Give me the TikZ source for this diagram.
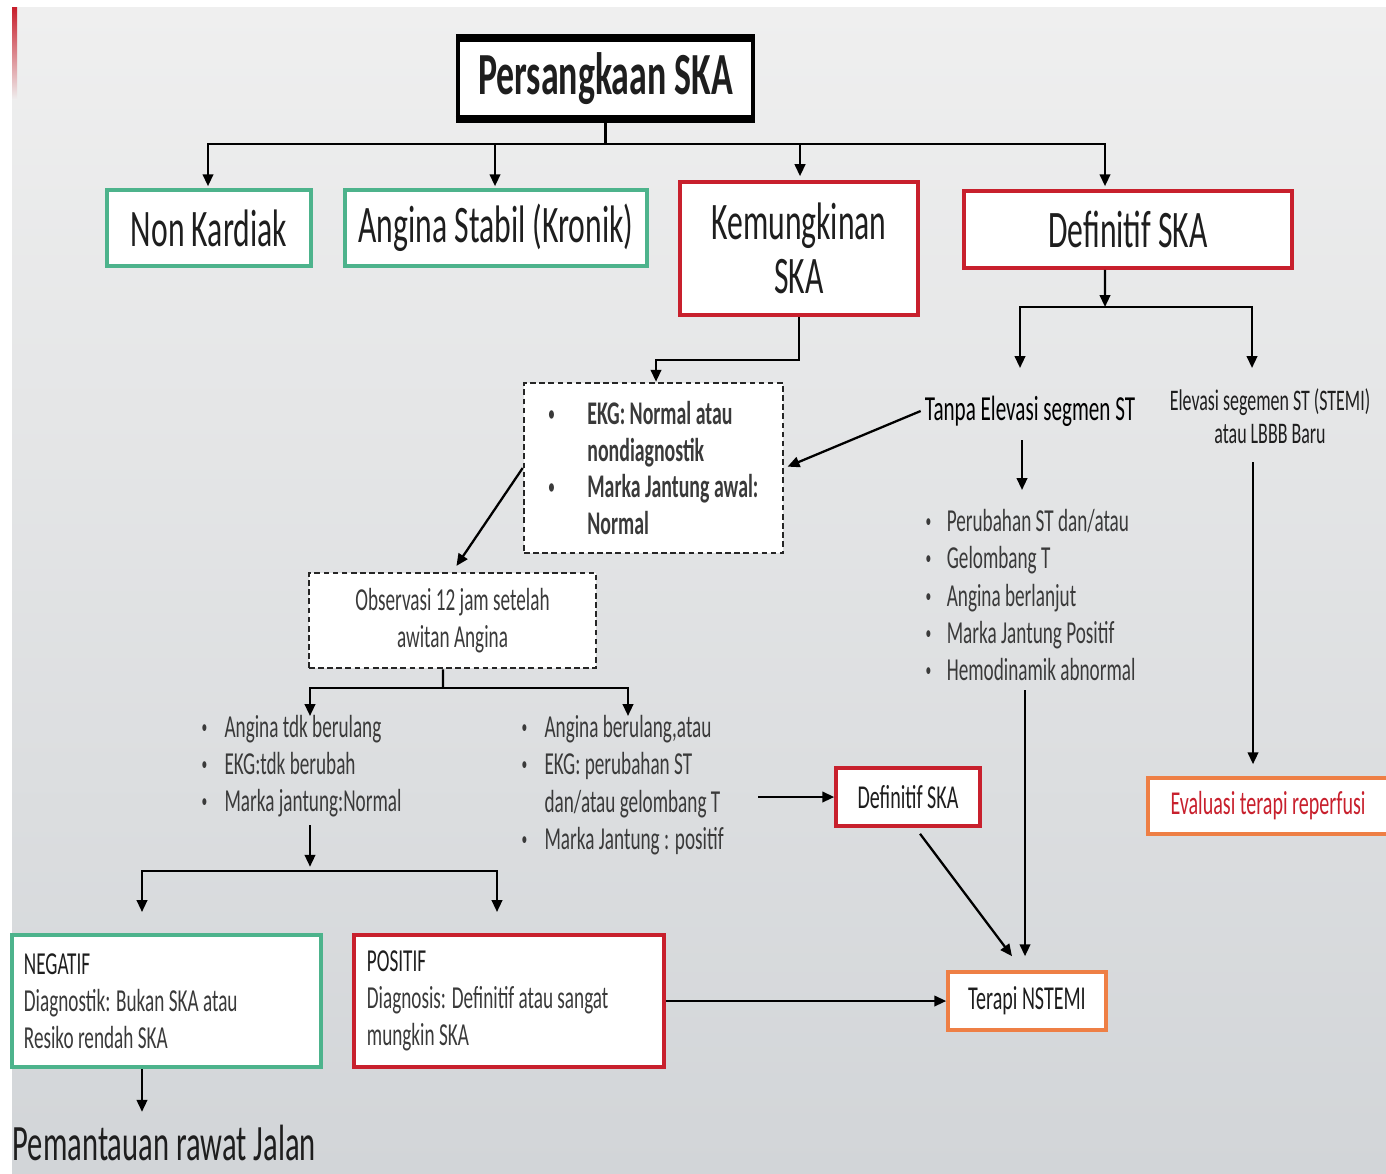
\documentclass[tikz,border=0pt]{standalone}
\usepackage{fontspec}
\usepackage{graphicx}
\setmainfont[FakeStretch=0.6]{Carlito}
\usetikzlibrary{arrows.meta, positioning}
\definecolor{SkaGreen}{HTML}{4DB38C}
\definecolor{SkaRed}{HTML}{C8202D}
\definecolor{SkaOrange}{HTML}{EE7F45}
\definecolor{SkaText}{HTML}{1E1E1E}
\definecolor{SkaGrey}{HTML}{3A3A3A}
\definecolor{BgTop}{HTML}{EFEFEF}
\definecolor{BgBottom}{HTML}{D2D5D8}
\colorlet{BoxFill}{white}
\newcommand{\blt}[1]{\makebox[#1][l]{\raisebox{0.12em}{\scalebox{0.6}{\textbullet}}}}

\begin{document}
\begin{tikzpicture}[x=0.01cm, y=-0.01cm,
        box/.style={draw, fill=BoxFill, line width=1pt, inner sep=0pt, align=center, text=SkaText},
        greenbox/.style={box, draw=SkaGreen},
        redbox/.style={box, draw=SkaRed},
        orangebox/.style={box, draw=SkaOrange},
        dotbox/.style={box, draw=black!85, dash pattern=on 1.6pt off 1pt, line width=0.7pt},
        arr/.style={-{Triangle[length=3.4pt,width=3pt]}, line width=0.65pt, black},
        conn/.style={line width=0.65pt, black},
        big/.style={font=\fontsize{15}{15.4}\selectfont},
        label/.style={font=\fontsize{9.5}{11}\selectfont},
        list/.style={align=left, inner sep=0pt, text=SkaGrey, font=\fontsize{9.1}{10.6}\selectfont}
    ]
    \useasboundingbox (0,0) rectangle (1386,1173);

    % Background
    \fill[white] (0,0) rectangle (1386,1173);
    \shade[top color=BgTop, bottom color=BgBottom] (12,8) rectangle (1386,1173);
    \shade[top color=SkaRed, bottom color=BgTop] (12,8) rectangle (17,100);

    % Top level
    \node[box, line width=1.2pt, minimum width=2.95cm, minimum height=0.77cm,
          font=\fontsize{17}{17}\selectfont\bfseries] (persangkaan) at (605.5,78.5) {Persangkaan SKA};
    \draw[line width=2pt] (persangkaan.north west) -- (persangkaan.north east);
    \draw[line width=2pt] (persangkaan.south west) -- (persangkaan.south east);

    \node[greenbox, big, minimum width=2.04cm, minimum height=0.76cm] (nonkardiak) at (209,228) {Non Kardiak};
    \node[greenbox, big, minimum width=3.02cm, minimum height=0.76cm] (stabil) at (496,228) {Angina Stabil (Kronik)};
    \node[redbox, big, minimum width=2.38cm, minimum height=1.33cm] (mungkin) at (799,248.5) {Kemungkinan\\SKA};
    \node[redbox, big, minimum width=3.28cm, minimum height=0.77cm] (definitif) at (1128,229.5) {Definitif SKA};

    \coordinate (split1) at (605.5,144);
    \draw[conn] (persangkaan.south) -- (split1);
    \draw[arr] (split1) -| ([xshift=-0.01cm, yshift=0.02cm]nonkardiak.north);
    \draw[arr] (split1) -| ([xshift=-0.01cm, yshift=0.02cm]stabil.north);
    \draw[arr] (split1) -| ([xshift=0.01cm, yshift=0.04cm]mungkin.north);
    \draw[arr] (split1) -| ([xshift=-0.23cm, yshift=0.03cm]definitif.north);

    % Kemungkinan SKA branch
    \node[dotbox, minimum width=2.59cm, minimum height=1.70cm, align=left,
          font=\fontsize{9.4}{10.5}\selectfont\bfseries, text=SkaGrey] (ekg) at (653.5,468)
        {\blt{11pt}EKG: Normal atau\\\hspace*{11pt}nondiagnostik\\\blt{11pt}Marka Jantung awal:\\\hspace*{11pt}Normal};
    \draw[arr] (mungkin.south) -- ++(0,43) -| ([xshift=0.025cm]ekg.north);

    % Definitif SKA branch
    \node[font=\fontsize{10}{11}\selectfont, inner sep=1pt] (tanpa) at (1030,411) {Tanpa Elevasi segmen ST};
    \node[align=center, font=\fontsize{8.5}{9.4}\selectfont, text=SkaText] (stemi) at (1270,416)
        {Elevasi segemen ST (STEMI)\\atau LBBB Baru};
    \coordinate (split2) at (1105,307);
    \coordinate (tanpaIn) at (1020,368);
    \coordinate (stemiIn) at (1252,368);
    \draw[arr] ([xshift=-0.23cm]definitif.south) -- (split2);
    \draw[arr] (split2) -| (tanpaIn);
    \draw[arr] (split2) -| (stemiIn);
    \draw[arr, shorten >=1pt] (tanpa.west) -- (ekg.east);

    \node[list, anchor=west] (nstlist) at (925,595)
        {\blt{6pt}Perubahan ST dan/atau\\\blt{6pt}Gelombang T\\\blt{6pt}Angina berlanjut\\
         \blt{6pt}Marka Jantung Positif\\\blt{6pt}Hemodinamik abnormal};
    \coordinate (tanpaOut) at (1022,440);
    \draw[arr] (tanpaOut) -- ++(0,50);

    \node[orangebox, label, minimum width=2.40cm, minimum height=0.56cm, text=SkaRed] (evaluasi) at (1268,806)
        {Evaluasi terapi reperfusi};
    \coordinate (stemiOut) at (1253,462);
    \draw[arr, shorten >=0.12cm] (stemiOut) -- (stemiOut |- evaluasi.north);

    % Observasi
    \node[dotbox, minimum width=2.87cm, minimum height=0.95cm, font=\fontsize{9.1}{10.5}\selectfont,
          text=SkaGrey] (observasi) at (452.5,620.5) {Observasi 12 jam setelah\\awitan Angina};
    \draw[arr, shorten >=2pt] (ekg.west) -- (observasi.north);

    \node[list, anchor=west] (leftlist) at (201,766)
        {\blt{6.5pt}Angina tdk berulang\\\blt{6.5pt}EKG:tdk berubah\\\blt{6.5pt}Marka jantung:Normal};
    \node[list, anchor=west] (rightlist) at (521,785)
        {\blt{6.5pt}Angina berulang,atau\\\blt{6.5pt}EKG: perubahan ST\\\hspace*{6.5pt}dan/atau gelombang T\\
         \blt{6.5pt}Marka Jantung : positif};
    \coordinate (split3) at (443,688);
    \coordinate (leftIn) at (310,716);
    \coordinate (rightIn) at (628,716);
    \draw[conn] ([xshift=-0.095cm]observasi.south) -- (split3);
    \draw[arr] (split3) -| (leftIn);
    \draw[arr] (split3) -| (rightIn);

    \node[redbox, label, minimum width=1.44cm, minimum height=0.58cm] (defska2) at (908,797) {Definitif SKA};
    \coordinate (rightOut) at (758,797);
    \draw[arr] (rightOut) -- (defska2.west);

    % Negatif / Positif
    \node[greenbox, minimum width=3.09cm, minimum height=1.32cm, text width=2.85cm, align=flush left,
          font=\fontsize{9.1}{10.6}\selectfont, text=SkaGrey] (negatif) at (166.5,1001)
        {{\color{SkaText}NEGATIF}\\Diagnostik: Bukan SKA atau\\Resiko rendah SKA};
    \node[redbox, minimum width=3.10cm, minimum height=1.32cm, text width=2.84cm, align=flush left,
          font=\fontsize{9.1}{10.6}\selectfont, text=SkaGrey] (positif) at (509,1001)
        {{\color{SkaText}POSITIF}\\Diagnosis: Definitif atau sangat\\mungkin SKA};
    \coordinate (leftOut) at (310,825);
    \coordinate (split4) at (310,871);
    \coordinate (negIn) at (142,912);
    \coordinate (posIn) at (497,912);
    \draw[arr, shorten >=1.2pt] (leftOut) -- (split4);
    \draw[arr] (split4) -| (negIn);
    \draw[arr] (split4) -| (posIn);

    \node[orangebox, label, minimum width=1.58cm, minimum height=0.58cm] (nstemi) at (1027,1001) {Terapi NSTEMI};
    \coordinate (nstOut) at (1025,690);
    \draw[arr, shorten >=0.14cm] (nstOut) -- (nstOut |- nstemi.north);
    \draw[arr] ([xshift=0.12cm, yshift=-0.06cm]defska2.south) -- ([xshift=-0.15cm, yshift=0.14cm]nstemi.north);
    \draw[arr] (positif.east) -- (nstemi.west);

    \node[anchor=base west, inner sep=0pt, font=\fontsize{14.5}{16}\selectfont, text=SkaText] (pemantauan) at (12,1160)
        {Pemantauan rawat Jalan};
    \draw[arr] ([xshift=-0.245cm]negatif.south) -- ++(0,43);

\end{tikzpicture}
\end{document}
